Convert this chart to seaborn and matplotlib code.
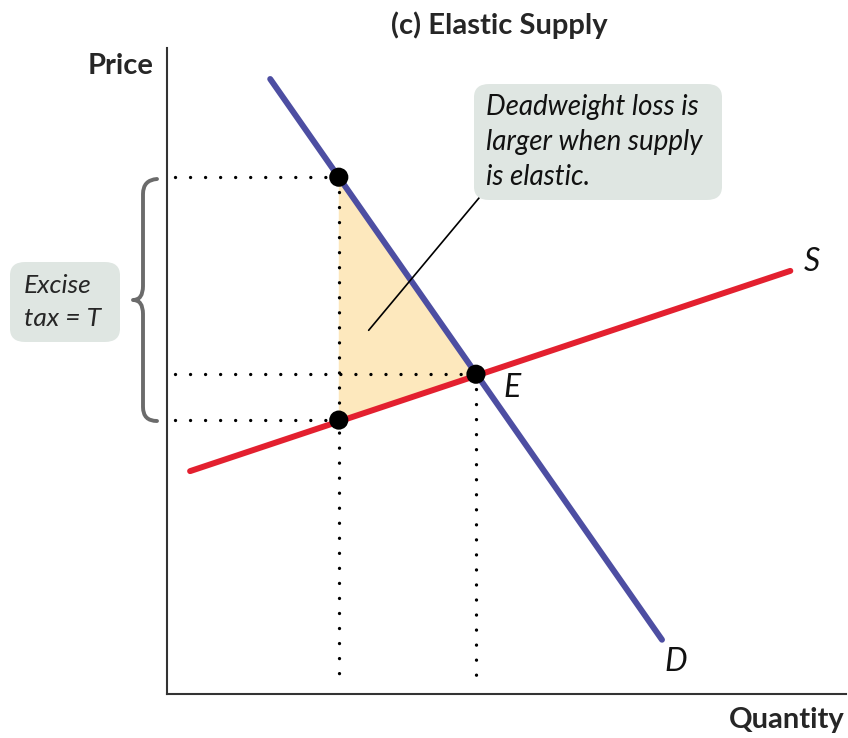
import matplotlib
matplotlib.use("Agg")
import matplotlib.pyplot as plt
import seaborn as sns
import pandas as pd
from matplotlib.patches import FancyBboxPatch, Polygon, PathPatch
from matplotlib.path import Path

# ---- data (axis units 0-100) ----
demand_q = [15.2, 72.9]
demand_p = [95.2, 8.4]
supply_q = [3.4, 91.8]
supply_p = [34.5, 65.5]
eq_q, eq_p = 45.5, 49.5
tax_q = 25.3
p_buyer = 80.0
p_seller = 42.4
point_q = [tax_q, eq_q, tax_q]
point_p = [p_buyer, eq_p, p_seller]

sns.set_theme(style="white")
plt.rcParams['font.family'] = ['Lato', 'DejaVu Sans']

W, H = 848, 738
fig = plt.figure(figsize=(W / 100, H / 100), dpi=100)
ax = fig.add_axes([167 / W, (H - 694) / H, 679 / W, 646 / H])
ax.set_xlim(0, 100)
ax.set_ylim(0, 100)

def px(x, y):
    return (x / W, 1 - y / H)

blue = "#4d4ea2"
red = "#e3202f"
fill = "#fde8bd"
boxc = "#dfe6e2"

# deadweight loss triangle
ax.add_patch(Polygon([[tax_q, p_buyer], [eq_q, eq_p], [tax_q, p_seller]],
                     closed=True, facecolor=fill, edgecolor="none", zorder=1))

# dotted guides
dot_kw = dict(color="black", lw=2.4, linestyle=(0, (0.01, 4.5)),
              dash_capstyle="round", zorder=2)
ax.plot([1.2, tax_q], [p_buyer, p_buyer], **dot_kw)
ax.plot([1.2, eq_q], [eq_p, eq_p], **dot_kw)
ax.plot([1.2, tax_q], [p_seller, p_seller], **dot_kw)
ax.plot([tax_q, tax_q], [p_buyer, 1.8], **dot_kw)
ax.plot([eq_q, eq_q], [eq_p, 1.8], **dot_kw)

# curves
sns.lineplot(x=demand_q, y=demand_p, color=blue, linewidth=4.3, ax=ax,
             sort=False, zorder=3)
sns.lineplot(x=supply_q, y=supply_p, color=red, linewidth=4.3, ax=ax,
             sort=False, zorder=3)
sns.scatterplot(x=point_q, y=point_p, color="black", s=190, ax=ax,
                edgecolor="none", zorder=5)

# spines
sns.despine(ax=ax)
for s in ["left", "bottom"]:
    ax.spines[s].set_color("#333333")
    ax.spines[s].set_linewidth(1.5)
ax.set_xticks([])
ax.set_yticks([])

# curve labels
lab_kw = dict(fontsize=23, style="italic", color="#111111", ha="center", va="center")
ax.text(95.0, 66.9, "S", **lab_kw)
ax.text(75.0, 5.0, "D", **lab_kw)
ax.text(50.8, 47.4, "E", **lab_kw)

# axis titles
fig.text(*px(153, 66), "Price", fontsize=21, fontweight="bold", ha="right", va="center")
fig.text(*px(845, 720), "Quantity", fontsize=21, fontweight="bold", ha="right", va="center")
fig.text(*px(499, 25), "(c) Elastic Supply", fontsize=21, fontweight="bold",
         ha="center", va="center")

# deadweight annotation
box = FancyBboxPatch(px(474, 200), (722 - 474) / W, (200 - 84) / H,
                     boxstyle="round,pad=0,rounding_size=0.018",
                     transform=fig.transFigure, facecolor=boxc, edgecolor="none",
                     zorder=6)
fig.patches.append(box)
for i, line in enumerate(["Deadweight loss is", "larger when supply", "is elastic."]):
    fig.text(*px(486, 107 + 35 * i), line, fontsize=20, style="italic",
             ha="left", va="center", color="#111111", zorder=7)
ax.plot([46.2, 29.7], [77.1, 56.3], color="black", lw=1.2, zorder=4)

# excise tax box
box2 = FancyBboxPatch(px(10, 342), (120 - 10) / W, (342 - 262) / H,
                      boxstyle="round,pad=0,rounding_size=0.018",
                      transform=fig.transFigure, facecolor=boxc, edgecolor="none")
fig.patches.append(box2)
fig.text(*px(24, 285), "Excise", fontsize=19, style="italic", ha="left", va="center")
fig.text(*px(24, 319), "tax = T", fontsize=19, style="italic", ha="left", va="center")

# brace
verts = [px(157, 179), px(143, 180), px(143, 194),
         px(143, 286),
         px(143, 300), px(133, 300),
         px(143, 300), px(143, 314),
         px(143, 407),
         px(143, 421), px(157, 421)]
codes = [Path.MOVETO, Path.CURVE3, Path.CURVE3,
         Path.LINETO,
         Path.CURVE3, Path.CURVE3,
         Path.CURVE3, Path.CURVE3,
         Path.LINETO,
         Path.CURVE3, Path.CURVE3]
brace = PathPatch(Path(verts, codes), transform=fig.transFigure, facecolor="none",
                  edgecolor="#6b6b6b", lw=2.8, capstyle="round", joinstyle="round")
fig.patches.append(brace)

fig.savefig("out.png", dpi=100)
